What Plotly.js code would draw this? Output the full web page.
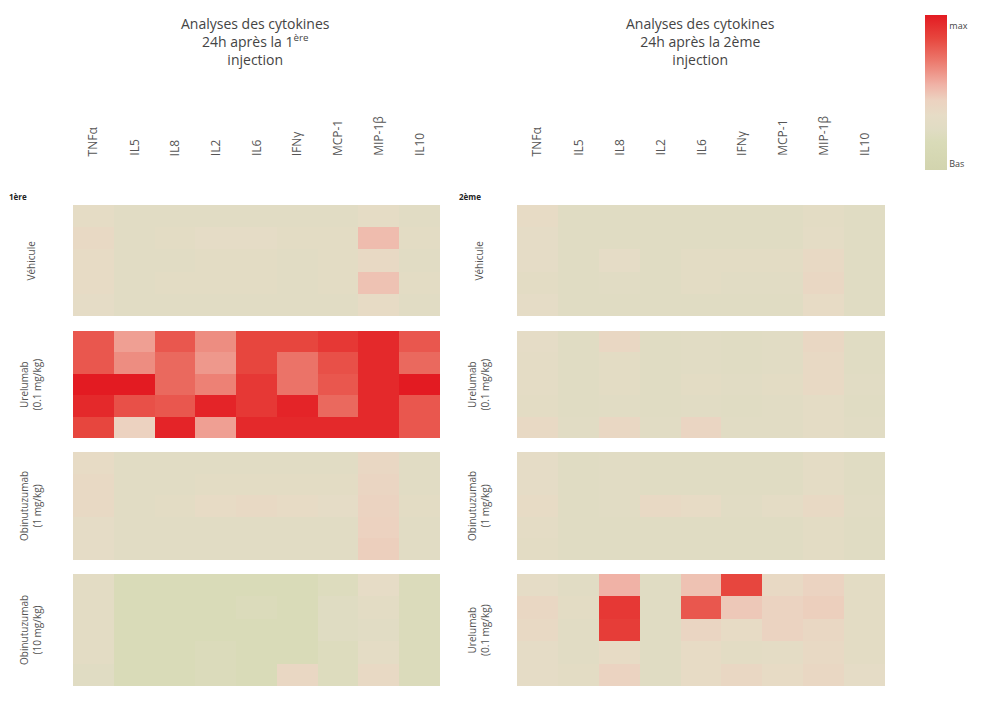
<!DOCTYPE html>
<html><head><meta charset="utf-8">
<script src="https://cdn.plot.ly/plotly-3.0.1.min.js"></script>
<style>html,body{margin:0;padding:0;background:#fff}#chart{width:1005px;height:704px}</style>
</head><body><div id="chart"></div>
<script>
const cytokines = ['TNFα','IL5','IL8','IL2','IL6','IFNγ','MCP-1','MIP-1β','IL10'];
const mice = ['1','2','3','4','5'];
const groupsInj1 = ['Véhicule','Urelumab<br>(0.1 mg/kg)','Obinutuzumab<br>(1 mg/kg)','Obinutuzumab<br>(10 mg/kg)'];
const groupsInj2 = ['Véhicule','Urelumab<br>(0.1 mg/kg)','Obinutuzumab<br>(1 mg/kg)','Urelumab<br>(0.1 mg/kg)'];
const titleInj1 = 'Analyses des cytokines<br>24h après la 1<sup>ère</sup><br>injection';
const titleInj2 = 'Analyses des cytokines<br>24h après la 2ème<br>injection';
const tagInj1 = '1ère', tagInj2 = '2ème';
const scaleLabels = ['max','Bas'];

const inj1_vehicule = [
 [0.33,0.28,0.28,0.28,0.28,0.28,0.28,0.33,0.28],
 [0.38,0.28,0.30,0.34,0.34,0.30,0.30,0.52,0.30],
 [0.36,0.28,0.28,0.30,0.30,0.28,0.30,0.38,0.28],
 [0.36,0.28,0.30,0.30,0.30,0.28,0.30,0.50,0.30],
 [0.34,0.28,0.28,0.28,0.28,0.28,0.28,0.36,0.28]];
const inj1_urelumab = [
 [0.80,0.60,0.80,0.65,0.85,0.85,0.90,0.95,0.80],
 [0.80,0.65,0.75,0.62,0.85,0.72,0.82,0.95,0.75],
 [1.00,1.00,0.75,0.68,0.90,0.72,0.80,0.95,1.00],
 [0.95,0.82,0.80,0.97,0.90,0.97,0.75,0.95,0.80],
 [0.85,0.45,0.97,0.60,0.95,0.95,0.95,0.95,0.80]];
const inj1_obinu1 = [
 [0.36,0.28,0.28,0.28,0.28,0.28,0.28,0.40,0.28],
 [0.38,0.28,0.28,0.30,0.30,0.30,0.30,0.42,0.28],
 [0.38,0.28,0.30,0.36,0.38,0.36,0.34,0.44,0.30],
 [0.34,0.28,0.28,0.28,0.28,0.28,0.28,0.45,0.28],
 [0.34,0.28,0.28,0.28,0.28,0.28,0.28,0.46,0.28]];
const inj1_obinu10 = [
 [0.30,0.18,0.18,0.18,0.18,0.18,0.22,0.35,0.20],
 [0.30,0.18,0.18,0.18,0.20,0.18,0.25,0.30,0.20],
 [0.30,0.18,0.18,0.18,0.18,0.18,0.25,0.28,0.20],
 [0.30,0.18,0.18,0.20,0.18,0.18,0.22,0.32,0.20],
 [0.26,0.18,0.18,0.20,0.18,0.40,0.22,0.38,0.20]];
const inj2_vehicule = [
 [0.36,0.26,0.26,0.26,0.26,0.26,0.26,0.30,0.26],
 [0.34,0.26,0.26,0.26,0.26,0.26,0.26,0.32,0.26],
 [0.34,0.26,0.34,0.26,0.30,0.30,0.30,0.38,0.26],
 [0.30,0.26,0.28,0.26,0.30,0.28,0.28,0.40,0.26],
 [0.34,0.26,0.26,0.26,0.26,0.26,0.26,0.36,0.26]];
const inj2_urelumab = [
 [0.34,0.26,0.40,0.26,0.28,0.26,0.28,0.40,0.26],
 [0.32,0.26,0.30,0.26,0.28,0.26,0.28,0.38,0.26],
 [0.32,0.26,0.30,0.26,0.30,0.28,0.30,0.38,0.28],
 [0.30,0.26,0.28,0.26,0.28,0.26,0.28,0.32,0.26],
 [0.38,0.28,0.40,0.28,0.42,0.28,0.28,0.32,0.28]];
const inj2_obinu1 = [
 [0.34,0.26,0.28,0.26,0.26,0.26,0.26,0.32,0.26],
 [0.34,0.26,0.28,0.26,0.26,0.26,0.26,0.32,0.26],
 [0.36,0.26,0.28,0.38,0.36,0.28,0.32,0.38,0.28],
 [0.32,0.26,0.26,0.26,0.26,0.26,0.26,0.30,0.26],
 [0.30,0.26,0.26,0.26,0.26,0.26,0.26,0.30,0.26]];
const inj2_urelumab2 = [
 [0.34,0.28,0.55,0.26,0.50,0.85,0.38,0.44,0.30],
 [0.40,0.30,0.90,0.26,0.80,0.48,0.44,0.46,0.30],
 [0.38,0.28,0.88,0.26,0.42,0.36,0.44,0.40,0.30],
 [0.34,0.28,0.36,0.26,0.36,0.30,0.32,0.38,0.30],
 [0.34,0.30,0.44,0.26,0.36,0.40,0.36,0.40,0.34]];

const panels = [
 {data:[inj1_vehicule,inj1_urelumab,inj1_obinu1,inj1_obinu10], labels:groupsInj1, x0:73, x1:440, title:titleInj1, tx:255, lx:30, tag:tagInj1, tagx:18},
 {data:[inj2_vehicule,inj2_urelumab,inj2_obinu1,inj2_urelumab2], labels:groupsInj2, x0:517, x1:885, title:titleInj2, tx:700, lx:478, tag:tagInj2, tagx:470}
];
const groupY = [[205,316],[331,438],[452,560],[574,686]];
const W=1005,H=704;
const px = v=>v/W, py = v=>1-v/H;

const colorscale = [[0,'#d2d4ae'],[0.18,'#d9dbb8'],[0.26,'#e0dcc3'],[0.35,'#e6dcc6'],[0.45,'#ecd2c0'],[0.55,'#f0b2a6'],[0.7,'#ec7a6e'],[0.85,'#e7463e'],[1,'#e31b22']];

const traces=[], annotations=[];
const layout = {width:W,height:H,margin:{l:0,r:0,t:0,b:0},paper_bgcolor:'#fff',plot_bgcolor:'#fff',showlegend:false,
  font:{family:'Open Sans, sans-serif',color:'#444'}};
let k=0;
panels.forEach((p,pi)=>{
  p.data.forEach((z,gi)=>{
    k++;
    const xa='x'+(k===1?'':k), ya='y'+(k===1?'':k);
    const xk='xaxis'+(k===1?'':k), yk='yaxis'+(k===1?'':k);
    const t={type:'heatmap',z:z,x:cytokines,y:mice,xaxis:xa,yaxis:ya,colorscale:colorscale,zmin:0,zmax:1,showscale:false,hoverinfo:'z'};
    if(k===1){
      t.showscale=true;
      t.colorbar={x:px(925),xanchor:'left',y:py(15),yanchor:'top',len:155/H,lenmode:'fraction',thickness:22,thicknessmode:'pixels',outlinewidth:0,
        tickvals:[0.93,0.04],ticktext:scaleLabels,ticks:'',tickfont:{size:9,color:'#444'},ypad:0,xpad:0};
    }
    traces.push(t);
    layout[xk]={domain:[px(p.x0),px(p.x1)],anchor:ya,showticklabels:false,showgrid:false,zeroline:false,ticks:'',type:'category'};
    layout[yk]={domain:[py(groupY[gi][1]),py(groupY[gi][0])],anchor:xa,showticklabels:false,showgrid:false,zeroline:false,ticks:'',autorange:'reversed',type:'category'};
    annotations.push({xref:'paper',yref:'paper',x:px(p.lx),y:py((groupY[gi][0]+groupY[gi][1])/2),text:p.labels[gi],textangle:-90,showarrow:false,
      xanchor:'center',yanchor:'middle',font:{size:10,color:'#555'}});
    if(gi===0){
      cytokines.forEach(c=>{
        annotations.push({xref:xa,yref:'paper',x:c,y:py(158),text:c,textangle:-90,showarrow:false,xanchor:'center',yanchor:'bottom',font:{size:12,color:'#555'}});
      });
    }
  });
  annotations.push({xref:'paper',yref:'paper',x:px(p.tx),y:py(12),text:p.title,showarrow:false,xanchor:'center',yanchor:'top',font:{size:14,color:'#444'}});
  annotations.push({xref:'paper',yref:'paper',x:px(p.tagx),y:py(197),text:'<b>'+p.tag+'</b>',showarrow:false,xanchor:'center',yanchor:'middle',font:{size:8,color:'#222'}});
});
layout.annotations=annotations;
Plotly.newPlot('chart',traces,layout,{displayModeBar:false});
</script></body></html>
